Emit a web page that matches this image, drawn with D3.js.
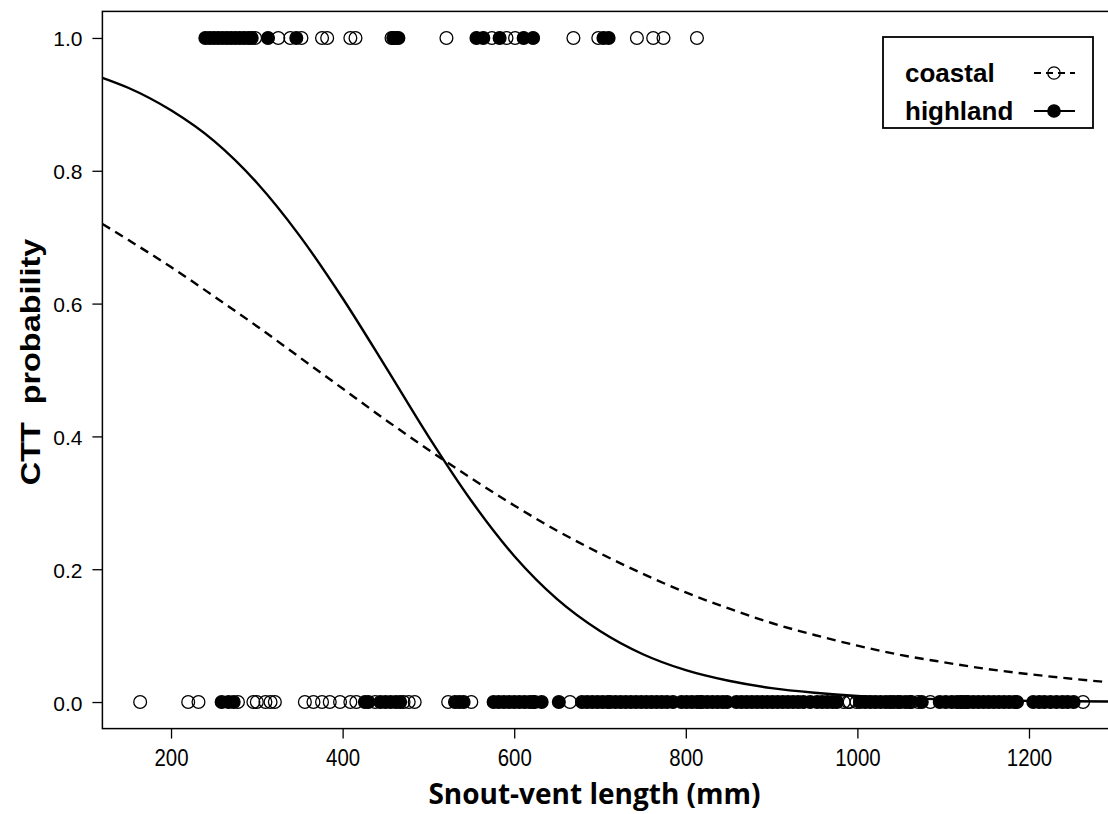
<!DOCTYPE html>
<html><head><meta charset="utf-8">
<script src="https://cdn.jsdelivr.net/npm/d3@7/dist/d3.min.js"></script>
<style>html,body{margin:0;padding:0;background:#fff;}svg{display:block;}</style>
</head><body>
<script>
// ---- data ----
const xTicks = [200, 400, 600, 800, 1000, 1200];
const yTicks = [0.0, 0.2, 0.4, 0.6, 0.8, 1.0];
const yTickLabels = ["0.0", "0.2", "0.4", "0.6", "0.8", "1.0"];

// highland (filled) observations, CTT = 1
const highlandYes = [240, 245, 250, 255, 260, 265, 270, 275, 280, 285, 290, 294, 313, 346, 459, 462, 465, 556, 564, 583, 611, 622, 704, 710];
// coastal (open) observations, CTT = 1
const coastalYes = [298, 325, 339, 352, 376, 382, 409, 415, 457, 521, 574, 591, 601, 669, 698, 743, 762, 774, 813];
// highland (filled) observations, CTT = 0
const highlandNo = [259, 267, 273, 426, 430, 444, 450, 456, 462, 467, 531, 536, 541, 576, 582, 588, 594, 600, 606, 612, 618, 622, 632, 652,
  679, 685, 691, 697, 703, 709, 718, 724, 730, 736, 742, 748, 754, 760, 766, 772, 778, 785, 795, 801, 807, 813, 819, 825, 831, 837, 843, 848,
  859, 865, 871, 877, 883, 889, 895, 901, 907, 913, 919, 925, 931, 937, 945, 953, 959, 965, 971, 976, 1003, 1009, 1015, 1021, 1027, 1033, 1038,
  1050, 1056, 1061, 1075, 1096, 1103, 1110, 1116, 1120, 1127, 1135, 1141, 1147, 1153, 1159, 1165, 1171, 1177, 1183, 1186, 1205, 1212, 1218, 1225,
  1232, 1239, 1245, 1252];
// coastal (open) observations, CTT = 0
const coastalNo = [164, 220, 232, 278, 296, 300, 310, 316, 321, 356, 366, 376, 385, 397, 409, 416, 438, 471, 477, 484, 523, 550, 624, 665, 712, 817,
  984, 989, 991, 999, 1042, 1047, 1063, 1071, 1085, 1123, 1129, 1263];

// fitted curves, read at 50 mm steps
const curveX = [120, 150, 200, 250, 300, 350, 400, 450, 500, 550, 600, 650, 700, 750, 800, 850, 900, 950, 1000, 1050, 1100, 1150, 1200, 1250, 1300];
const highlandCurve = [0.940, 0.925, 0.891, 0.845, 0.782, 0.702, 0.608, 0.505, 0.400, 0.303, 0.220, 0.155, 0.107, 0.072, 0.048, 0.032, 0.021, 0.014, 0.009, 0.006, 0.004, 0.0026, 0.0017, 0.0011, 0.0007];
const coastalCurve = [0.720, 0.696, 0.655, 0.611, 0.566, 0.519, 0.472, 0.425, 0.380, 0.337, 0.296, 0.258, 0.224, 0.193, 0.165, 0.141, 0.119, 0.101, 0.085, 0.071, 0.060, 0.050, 0.042, 0.035, 0.029];

const legendLabels = ["coastal", "highland"];

// ---- layout ----
const W = 1108, H = 814;
const pL = 102.4, pR = 1122.5, pT = 11.4, pB = 728.6;

const svg = d3.select("body").append("svg").attr("width", W).attr("height", H);

const x = d3.scaleLinear().domain([120, 1309]).range([pL, pR]);
const y = d3.scaleLinear().domain([-0.04, 1.04]).range([pB, pT]);

svg.append("defs").append("clipPath").attr("id", "clip")
  .append("rect").attr("x", pL).attr("y", pT).attr("width", pR - pL).attr("height", pB - pT);

const plot = svg.append("g").attr("clip-path", "url(#clip)");

// curves
const line = d3.line().x((d) => x(d[0])).y((d) => y(d[1])).curve(d3.curveMonotoneX);
plot.append("path").datum(curveX.map((v, i) => [v, coastalCurve[i]]))
  .attr("d", line).attr("fill", "none").attr("stroke", "#000").attr("stroke-width", 2.4).attr("stroke-dasharray", "9,6");
plot.append("path").datum(curveX.map((v, i) => [v, highlandCurve[i]]))
  .attr("d", line).attr("fill", "none").attr("stroke", "#000").attr("stroke-width", 2.4);

// points
const R = 6.4;
function pts(arr, val, filled) {
  plot.append("g").selectAll("circle").data(arr).join("circle")
    .attr("cx", (d) => x(d)).attr("cy", y(val)).attr("r", R)
    .attr("fill", filled ? "#000" : "none").attr("stroke", "#000").attr("stroke-width", 1.3);
}
pts(coastalNo, 0, false);
pts(coastalYes, 1, false);
pts(highlandNo, 0, true);
pts(highlandYes, 1, true);

// frame
svg.append("rect").attr("x", pL).attr("y", pT).attr("width", pR - pL).attr("height", pB - pT)
  .attr("fill", "none").attr("stroke", "#000").attr("stroke-width", 1.5);

// x axis
const xAxis = svg.append("g").attr("transform", `translate(0,${pB})`)
  .call(d3.axisBottom(x).tickValues(xTicks).tickSize(10).tickFormat(d3.format("d")));
xAxis.select(".domain").remove();
xAxis.selectAll(".tick line").attr("stroke", "#000").attr("stroke-width", 1.3);
xAxis.selectAll(".tick text").attr("y", 0).attr("dy", null)
  .attr("transform", "translate(0,37) scale(0.85,1)")
  .attr("font-family", "Liberation Sans, Arial, sans-serif").attr("font-size", 24).attr("fill", "#000");

// y axis
const yAxis = svg.append("g").attr("transform", `translate(${pL},0)`)
  .call(d3.axisLeft(y).tickValues(yTicks).tickSize(10).tickFormat((d, i) => yTickLabels[i]));
yAxis.select(".domain").remove();
yAxis.selectAll(".tick line").attr("stroke", "#000").attr("stroke-width", 1.3);
yAxis.selectAll(".tick text").attr("x", 0).attr("dy", null).attr("y", 0)
  .attr("transform", "translate(-20,8)")
  .attr("font-family", "Liberation Sans, Arial, sans-serif").attr("font-size", 21).attr("fill", "#000");

// axis titles
svg.append("text").attr("transform", `translate(${(pL + pR) / 2 - 18},${804})`)
  .attr("text-anchor", "middle").attr("font-family", "Open Sans, sans-serif").attr("font-weight", 700)
  .attr("font-size", 28).text("Snout-vent length (mm)");
svg.append("text").attr("transform", `translate(40,${(pT + pB) / 2 - 8}) rotate(-90) scale(1.2,1)`)
  .attr("text-anchor", "middle").attr("font-family", "Liberation Sans, Arial, sans-serif").attr("font-weight", 700)
  .attr("font-size", 27).attr("xml:space", "preserve").text("CTT  probability");

// legend
const lg = svg.append("g");
lg.append("rect").attr("x", 883).attr("y", 37).attr("width", 210).attr("height", 91)
  .attr("fill", "#fff").attr("stroke", "#000").attr("stroke-width", 1.8);
const rows = [{ y: 73, dash: "7,5", filled: false }, { y: 111, dash: null, filled: true }];
rows.forEach((r, i) => {
  lg.append("text").attr("x", 905).attr("y", r.y + 9).attr("font-family", "Liberation Sans, Arial, sans-serif")
    .attr("font-weight", 700).attr("font-size", 26).text(legendLabels[i]);
  lg.append("line").attr("x1", 1034).attr("x2", 1075).attr("y1", r.y).attr("y2", r.y)
    .attr("stroke", "#000").attr("stroke-width", 2.2).attr("stroke-dasharray", r.dash);
  lg.append("circle").attr("cx", 1054).attr("cy", r.y).attr("r", 6.2)
    .attr("fill", r.filled ? "#000" : "none").attr("stroke", "#000").attr("stroke-width", 1.3);
});
</script>
</body></html>
